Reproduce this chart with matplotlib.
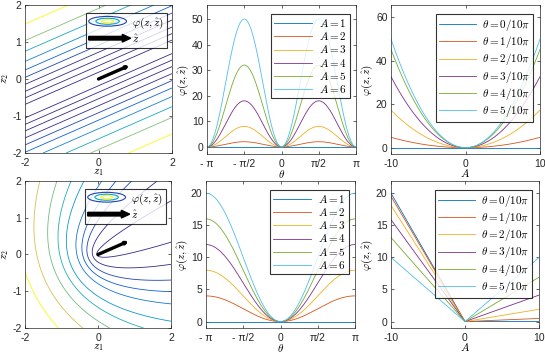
import numpy as np
import matplotlib
matplotlib.use("Agg")
import matplotlib.pyplot as plt
from matplotlib.colors import LinearSegmentedColormap, Normalize
from matplotlib.legend_handler import HandlerBase
from matplotlib.patches import Ellipse, FancyArrow
from matplotlib.lines import Line2D

plt.rcParams['font.family'] = ['Liberation Sans', 'DejaVu Sans']
plt.rcParams['mathtext.fontset'] = 'cm'
plt.rcParams['font.size'] = 7.5
plt.rcParams['axes.linewidth'] = 0.5

# --- values ---
A_LABELS = [1, 2, 3, 4, 5, 6]          # legend numbers
A_VALUES = [0, 2, 4, 6, 8, 10]         # amplitude used for each curve
THETA_K = [0, 1, 2, 3, 4, 5]           # theta = k/10 pi
ZHAT_ANGLE = 0.41                      # direction of z-hat (rad)
ZHAT_LEN = 0.92
# contour levels of phi in the two left panels
TOP_LEVELS = [0.014, 0.054, 0.12, 0.22, 0.35, 0.52, 0.76, 1.10, 1.53, 2.33]
BOT_LEVELS = [0.06, 0.29, 0.56, 0.81, 1.11, 1.59, 2.01, 2.53, 3.22, 4.07]
TOP_CRANGE = (0.2, 2.33)
BOT_CRANGE = (0.3, 4.07)

LINE_COLORS = ['#0072BD', '#D95319', '#EDB120', '#7E2F8E', '#77AC30', '#4DBEEE']
PARULA = ['#352A87', '#0F5CDD', '#1481D6', '#06A4CA', '#2EB7A4',
          '#87BF77', '#D1BB59', '#FEC832', '#F9FB0E']
parula = LinearSegmentedColormap.from_list('parula', PARULA)
TXT = '#262626'


def phi_quad(z1, z2):
    # half squared distance to the z-hat line
    d = -z1 * np.sin(ZHAT_ANGLE) + z2 * np.cos(ZHAT_ANGLE)
    return 0.5 * d ** 2


def phi_abs(z1, z2):
    r = np.hypot(z1, z2)
    return r - (z1 * np.cos(ZHAT_ANGLE) + z2 * np.sin(ZHAT_ANGLE))


class HandlerContour(HandlerBase):
    def create_artists(self, legend, orig, xd, yd, w, h, fs, trans):
        cx, cy = xd + w / 2, yd + h / 2
        arts = []
        for f, c in [(1.0, parula(0.06)), (0.62, parula(0.38)), (0.32, parula(0.98))]:
            e = Ellipse((cx, cy), w * f, h * 1.15 * f, fill=False, ec=c, lw=0.8,
                        transform=trans)
            arts.append(e)
        return arts


class HandlerArrow(HandlerBase):
    def create_artists(self, legend, orig, xd, yd, w, h, fs, trans):
        a = FancyArrow(xd, yd + h / 2, w + 3, 0, width=2.6, head_width=5.5,
                       head_length=6, length_includes_head=True,
                       color='k', transform=trans)
        return [a]


W, H = 545, 353
fig = plt.figure(figsize=(W / 100, H / 100), dpi=100)


def add_ax(l, r, t, b):
    ax = fig.add_axes([l / W, 1 - b / H, (r - l) / W, (b - t) / H])
    ax.tick_params(direction='in', length=2.5, width=0.5, top=True, right=True,
                   colors=TXT, labelsize=7.5, pad=2.5)
    ax.tick_params(axis='x', pad=3.5)
    for s in ax.spines.values():
        s.set_color(TXT)
    return ax


def style_legend(leg):
    fr = leg.get_frame()
    fr.set_edgecolor('k')
    fr.set_linewidth(0.8)
    fr.set_boxstyle('square', pad=0)


axes = [[add_ax(25, 172, 5, 153), add_ax(207, 356, 5, 154), add_ax(391, 540, 5, 154)],
        [add_ax(25, 171, 181, 328), add_ax(206, 355, 181, 328), add_ax(391, 539, 181, 328)]]

g = np.linspace(-2, 2, 401)
Z1, Z2 = np.meshgrid(g, g)
theta = np.linspace(-np.pi, np.pi, 721)
amp = np.linspace(-10, 10, 401)
u = np.array([np.cos(ZHAT_ANGLE), np.sin(ZHAT_ANGLE)]) * ZHAT_LEN

panels = [(phi_quad, TOP_LEVELS, TOP_CRANGE), (phi_abs, BOT_LEVELS, BOT_CRANGE)]
for row, (phi2d, levels, crange) in enumerate(panels):
    ax = axes[row][0]
    ax.contour(Z1, Z2, phi2d(Z1, Z2), levels=levels, cmap=parula,
               norm=Normalize(*crange, clip=True), linewidths=0.6)
    ax.annotate('', xy=(u[0], u[1]), xytext=(0, 0),
                arrowprops=dict(arrowstyle='-|>', lw=2.4, color='k',
                                mutation_scale=3, shrinkA=0, shrinkB=0))
    ax.set_xlim(-2, 2)
    ax.set_ylim(-2, 2)
    ax.set_xticks([-2, 0, 2])
    ax.set_yticks([-2, -1, 0, 1, 2])
    ax.set_xticklabels(['-2', '0', '2'])
    ax.set_yticklabels(['-2', '-1', '0', '1', '2'])
    ax.set_xlabel(r'$z_1$', fontsize=8, labelpad=-0.5)
    ax.set_ylabel(r'$z_2$', fontsize=8, labelpad=1)
    h1 = Line2D([], [])
    h2 = Line2D([], [])
    leg = ax.legend([h1, h2], [r'$\varphi(z,\hat{z})$', r'$\hat{z}$'],
                    handler_map={h1: HandlerContour(), h2: HandlerArrow()},
                    loc='upper right', bbox_to_anchor=(0.966, 0.946),
                    fontsize=8, handlelength=3.4, handleheight=0.8,
                    labelspacing=0.15, borderpad=0.25, handletextpad=0.5,
                    borderaxespad=0, fancybox=False)
    style_legend(leg)

    # phi versus theta
    ax = axes[row][1]
    for a, lab, c in zip(A_VALUES, A_LABELS, LINE_COLORS):
        if row == 0:
            y = 0.5 * (a * np.sin(theta)) ** 2
        else:
            y = a * (1 - np.cos(theta))
        ax.plot(theta, y, color=c, lw=0.6, label=r'$A=%d$' % lab)
    ax.set_xlim(-np.pi, np.pi)
    ax.set_xticks([-np.pi, -np.pi / 2, 0, np.pi / 2, np.pi])
    ax.set_xticklabels(['- π', '- π/2', '0', 'π/2', 'π'])
    ax.set_xlabel(r'$\theta$', fontsize=8, labelpad=-0.5)
    ax.set_ylabel(r'$\varphi(z,\hat{z})$', fontsize=8, labelpad=1)
    if row == 0:
        ax.set_ylim(-2.8, 55.5)
        ax.set_yticks([0, 10, 20, 30, 40, 50])
    else:
        ax.set_ylim(-1.0, 21.9)
        ax.set_yticks([0, 5, 10, 15, 20])
    leg = ax.legend(loc='upper right', bbox_to_anchor=(0.96, 0.94), fontsize=8,
                    handlelength=3.4, labelspacing=0.1, borderpad=0.3,
                    handletextpad=0.6, borderaxespad=0, fancybox=False)
    style_legend(leg)

    # phi versus A
    ax = axes[row][2]
    for k, c in zip(THETA_K, LINE_COLORS):
        th = k / 10 * np.pi
        if row == 0:
            y = 0.5 * (amp * np.sin(th)) ** 2
        else:
            y = np.abs(amp) - amp * np.cos(th)
        ax.plot(amp, y, color=c, lw=0.6, label=r'$\theta=%d/10\pi$' % k)
    ax.set_xlim(-10, 10)
    ax.set_xticks([-10, 0, 10])
    ax.set_xticklabels(['-10', '0', '10'])
    ax.set_xlabel(r'$A$', fontsize=8, labelpad=-1.5)
    ax.set_ylabel(r'$\varphi(z,\hat{z})$', fontsize=8, labelpad=1)
    if row == 0:
        ax.set_ylim(-2.9, 65.7)
        ax.set_yticks([0, 20, 40, 60])
    else:
        ax.set_ylim(-1.0, 21.9)
        ax.set_yticks([0, 5, 10, 15, 20])
    leg = ax.legend(loc='upper right', bbox_to_anchor=(0.955, 0.94), fontsize=8,
                    handlelength=3.3, labelspacing=0.1, borderpad=0.3,
                    handletextpad=0.5, borderaxespad=0, fancybox=False)
    style_legend(leg)

fig.savefig('out.png', dpi=100)
